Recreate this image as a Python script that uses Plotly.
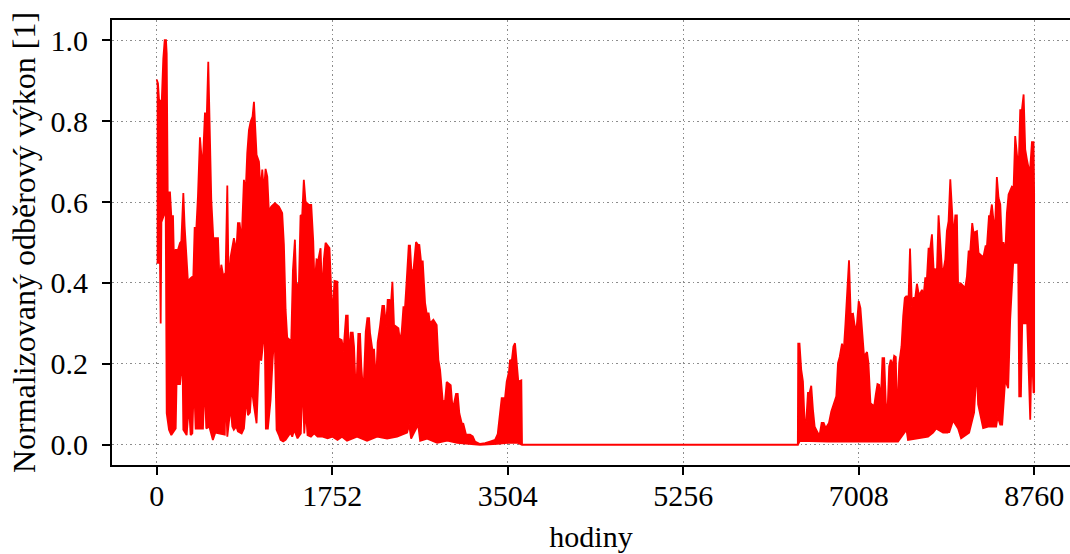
import plotly.graph_objects as go

# Upper envelope of the hourly normalized load (hour, value)
upper_hours = [0, 13, 23, 50, 66, 80, 93, 100, 110, 133, 146, 163, 173, 189, 213, 233, 246, 266, 279, 296,
               312, 339, 366, 379, 396, 412, 432, 449, 462, 482, 499, 515, 529, 545, 565, 612, 628, 645, 665, 688,
               705, 718, 738, 771, 795, 811, 828, 848, 871, 888, 904, 921, 938, 957, 971, 981, 997, 1021, 1037, 1054,
               1070, 1087, 1104, 1120, 1144, 1180, 1220, 1253, 1270, 1287, 1303, 1343, 1360, 1380, 1393, 1420, 1436, 1453, 1469, 1486,
               1519, 1543, 1563, 1576, 1596, 1612, 1636, 1652, 1669, 1686, 1725, 1742, 1755, 1775, 1804, 1814, 1847, 1864, 1890, 1907,
               1917, 1937, 1957, 1970, 1990, 2013, 2030, 2043, 2063, 2087, 2103, 2120, 2130, 2153, 2170, 2190, 2206, 2230, 2253, 2270,
               2290, 2306, 2323, 2336, 2353, 2369, 2413, 2429, 2446, 2463, 2479, 2496, 2516, 2529, 2542, 2562, 2589, 2606, 2622, 2639,
               2656, 2679, 2695, 2715, 2729, 2762, 2795, 2812, 2829, 2855, 2878, 2895, 2935, 2955, 2972, 2988, 3005, 3021, 3045, 3061,
               3088, 3128, 3155, 3178, 3228, 3278, 3328, 3378, 3404, 3427, 3444, 3477, 3494, 3517, 3527, 3544, 3561, 3577, 3594, 3610,
               3640, 3647, 6400, 6404, 6417, 6434, 6451, 6467, 6484, 6501, 6517, 6534, 6551, 6568, 6601, 6618, 6638, 6658, 6678, 6711,
               6734, 6751, 6768, 6784, 6801, 6818, 6841, 6858, 6875, 6891, 6911, 6928, 6951, 6978, 6991, 7008, 7025, 7045, 7061, 7091,
               7105, 7125, 7162, 7178, 7195, 7212, 7228, 7245, 7262, 7278, 7292, 7312, 7328, 7345, 7362, 7378, 7392, 7412, 7435, 7452,
               7468, 7482, 7506, 7520, 7539, 7556, 7572, 7589, 7606, 7622, 7639, 7655, 7672, 7689, 7705, 7722, 7739, 7755, 7789, 7805,
               7822, 7838, 7855, 7872, 7888, 7905, 7922, 7935, 7955, 7972, 7988, 8001, 8021, 8071, 8088, 8105, 8121, 8141, 8154, 8188,
               8204, 8238, 8254, 8274, 8288, 8308, 8321, 8337, 8354, 8371, 8387, 8404, 8421, 8437, 8454, 8471, 8487, 8504, 8537, 8554,
               8570, 8587, 8604, 8620, 8637, 8654, 8670, 8687, 8703, 8720, 8737, 8753, 8759]
upper_vals = [0.903, 0.893, 0.854, 0.844, 0.955, 1.000, 1.000, 0.967, 0.624, 0.624, 0.565, 0.565, 0.451, 0.482, 0.482, 0.499, 0.503, 0.622, 0.540, 0.470,
              0.404, 0.412, 0.417, 0.536, 0.536, 0.614, 0.760, 0.708, 0.704, 0.821, 0.803, 0.947, 0.799, 0.606, 0.511, 0.511, 0.400, 0.445, 0.417, 0.425,
              0.641, 0.396, 0.464, 0.511, 0.478, 0.548, 0.548, 0.503, 0.655, 0.622, 0.721, 0.778, 0.799, 0.811, 0.848, 0.786, 0.717, 0.700, 0.626, 0.680,
              0.626, 0.682, 0.663, 0.577, 0.589, 0.597, 0.589, 0.573, 0.495, 0.334, 0.265, 0.256, 0.431, 0.507, 0.392, 0.400, 0.566, 0.569, 0.655, 0.601,
              0.593, 0.593, 0.503, 0.392, 0.458, 0.456, 0.486, 0.369, 0.459, 0.499, 0.486, 0.384, 0.318, 0.405, 0.403, 0.263, 0.259, 0.230, 0.319, 0.319,
              0.218, 0.277, 0.277, 0.243, 0.111, 0.274, 0.274, 0.193, 0.123, 0.280, 0.313, 0.313, 0.276, 0.235, 0.235, 0.152, 0.253, 0.294, 0.343, 0.343,
              0.292, 0.358, 0.358, 0.337, 0.403, 0.296, 0.288, 0.255, 0.280, 0.340, 0.340, 0.407, 0.492, 0.492, 0.434, 0.428, 0.501, 0.495, 0.494, 0.453,
              0.453, 0.351, 0.325, 0.325, 0.300, 0.309, 0.296, 0.210, 0.185, 0.109, 0.107, 0.155, 0.147, 0.086, 0.107, 0.126, 0.126, 0.078, 0.053, 0.052,
              0.025, 0.025, 0.021, 0.008, 0.002, 0.004, 0.008, 0.012, 0.026, 0.074, 0.115, 0.115, 0.156, 0.181, 0.210, 0.206, 0.243, 0.251, 0.210, 0.156,
              0.159, 0.0, 0.0, 0.250, 0.250, 0.186, 0.157, 0.062, 0.058, 0.128, 0.128, 0.146, 0.087, 0.045, 0.029, 0.025, 0.054, 0.054, 0.041, 0.054,
              0.082, 0.095, 0.107, 0.120, 0.202, 0.217, 0.250, 0.231, 0.297, 0.359, 0.456, 0.322, 0.324, 0.276, 0.301, 0.355, 0.338, 0.272, 0.219, 0.229,
              0.202, 0.103, 0.095, 0.124, 0.150, 0.148, 0.107, 0.214, 0.214, 0.107, 0.058, 0.194, 0.210, 0.194, 0.220, 0.217, 0.058, 0.202, 0.243, 0.318,
              0.363, 0.367, 0.367, 0.485, 0.342, 0.363, 0.363, 0.398, 0.374, 0.374, 0.383, 0.367, 0.412, 0.412, 0.485, 0.485, 0.520, 0.435, 0.433, 0.567,
              0.499, 0.437, 0.433, 0.458, 0.528, 0.553, 0.656, 0.586, 0.511, 0.567, 0.567, 0.379, 0.400, 0.388, 0.416, 0.478, 0.478, 0.548, 0.524, 0.528,
              0.474, 0.466, 0.466, 0.491, 0.491, 0.565, 0.565, 0.594, 0.553, 0.553, 0.662, 0.610, 0.594, 0.499, 0.499, 0.474, 0.573, 0.619, 0.638, 0.635,
              0.763, 0.718, 0.680, 0.827, 0.827, 0.866, 0.730, 0.705, 0.685, 0.685, 0.748, 0.748, 0.623]

# Lower envelope of the hourly normalized load (hour, value)
lower_hours = [0, 33, 40, 47, 90, 100, 123, 146, 190, 200, 213, 233, 246, 259, 266, 299, 322, 339, 356, 372,
               389, 412, 462, 479, 495, 525, 561, 585, 680, 688, 705, 738, 755, 770, 795, 811, 848, 871, 897, 911,
               931, 947, 971, 997, 1024, 1044, 1064, 1077, 1090, 1110, 1137, 1157, 1177, 1197, 1220, 1237, 1263, 1287, 1336, 1353,
               1373, 1406, 1439, 1456, 1473, 1489, 1506, 1540, 1572, 1606, 1656, 1706, 1755, 1805, 1850, 1900, 2000, 2100, 2200, 2300,
               2400, 2500, 2520, 2540, 2610, 2630, 2700, 2800, 2900, 3000, 3100, 3228, 3400, 3500, 3600, 3647, 6400, 6420, 6700, 7000,
               7400, 7485, 7500, 7700, 7750, 7780, 7850, 7893, 7900, 7910, 7950, 8000, 8030, 8060, 8110, 8160, 8185, 8200, 8250, 8300,
               8380, 8395, 8420, 8440, 8470, 8500, 8520, 8550, 8600, 8610, 8627, 8640, 8690, 8720, 8735, 8753, 8759]
lower_vals = [0.45, 0.45, 0.30, 0.55, 0.58, 0.078, 0.037, 0.024, 0.04, 0.176, 0.15, 0.15, 0.184, 0.184, 0.037, 0.024, 0.10, 0.024, 0.028, 0.16,
              0.04, 0.04, 0.04, 0.16, 0.04, 0.045, 0.012, 0.03, 0.025, 0.147, 0.02, 0.094, 0.045, 0.037, 0.045, 0.033, 0.028, 0.04, 0.118, 0.073,
              0.08, 0.143, 0.097, 0.053, 0.224, 0.208, 0.257, 0.302, 0.04, 0.04, 0.11, 0.208, 0.278, 0.037, 0.024, 0.012, 0.008, 0.012, 0.03, 0.02,
              0.037, 0.016, 0.028, 0.167, 0.028, 0.086, 0.024, 0.02, 0.028, 0.02, 0.02, 0.016, 0.02, 0.012, 0.02, 0.01, 0.02, 0.01, 0.02, 0.015,
              0.02, 0.03, 0.05, 0.015, 0.05, 0.01, 0.015, 0.005, 0.01, 0.005, 0.002, 0.0, 0.002, 0.005, 0.005, 0.0, 0.0, 0.01, 0.008, 0.008,
              0.008, 0.037, 0.012, 0.02, 0.03, 0.04, 0.03, 0.03, 0.22, 0.03, 0.06, 0.04, 0.016, 0.02, 0.03, 0.08, 0.19, 0.10, 0.041, 0.045,
              0.045, 0.07, 0.05, 0.05, 0.16, 0.14, 0.31, 0.45, 0.45, 0.12, 0.12, 0.30, 0.30, 0.062, 0.25, 0.128, 0.13]

x_ticks = [0, 1752, 3504, 5256, 7008, 8760]
y_ticks = [0.0, 0.2, 0.4, 0.6, 0.8, 1.0]
x_title = "hodiny"
y_title = "Normalizovaný odběrový výkon [1]"

poly_x = upper_hours + lower_hours[::-1]
poly_y = upper_vals + lower_vals[::-1]

fig = go.Figure()
fig.add_trace(go.Scatter(
    x=poly_x, y=poly_y, mode="lines", fill="toself",
    fillcolor="#ff0000", line=dict(color="#ff0000", width=1.8),
    hoverinfo="skip", showlegend=False,
))

font_family = "Liberation Serif"
grid_color = "#8c8c8c"
grid_dash = "1.5px,3px"
fig.update_layout(
    width=1070, height=554,
    margin=dict(l=112, r=0, t=20, b=89),
    paper_bgcolor="white", plot_bgcolor="white",
    font=dict(family=font_family, size=30, color="black"),
    showlegend=False,
)
fig.update_xaxes(
    range=[-446, 9117], tickvals=x_ticks, ticktext=[str(v) for v in x_ticks],
    tickfont=dict(family=font_family, size=30, color="black"),
    showline=True, linecolor="black", linewidth=2, mirror=True,
    ticks="outside", ticklen=8, tickwidth=2, tickcolor="black",
    showgrid=True, gridcolor=grid_color, gridwidth=1, griddash=grid_dash,
    zeroline=False, ticklabelstandoff=-5,
    title=dict(text=x_title, standoff=15, font=dict(family=font_family, size=30)),
)
fig.update_yaxes(
    range=[-0.05, 1.05], tickvals=y_ticks, ticktext=[f"{v:.1f}" for v in y_ticks],
    tickfont=dict(family=font_family, size=30, color="black"),
    showline=True, linecolor="black", linewidth=2, mirror=False,
    ticks="outside", ticklen=8, tickwidth=2, tickcolor="black",
    showgrid=True, gridcolor=grid_color, gridwidth=1, griddash=grid_dash,
    zeroline=False, ticklabelstandoff=8,
    title=dict(text=y_title, standoff=5, font=dict(family=font_family, size=32)),
)

fig.write_html("out.html")
